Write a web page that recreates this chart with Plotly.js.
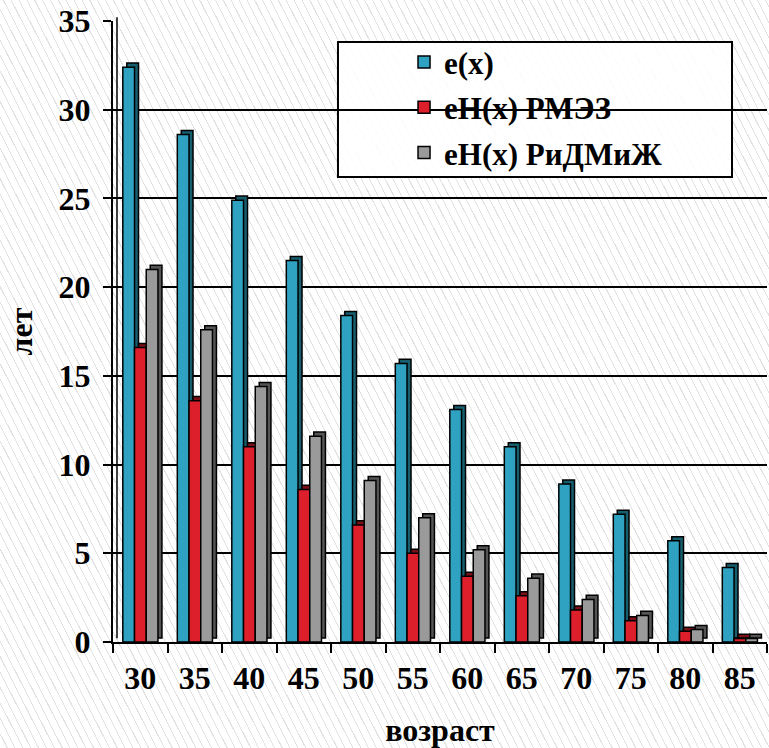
<!DOCTYPE html>
<html>
<head>
<meta charset="utf-8">
<script src="https://cdn.plot.ly/plotly-3.0.1.min.js"></script>
<style>
html, body { margin: 0; padding: 0; overflow: hidden; }
body {
  width: 769px; height: 748px;
  background: repeating-linear-gradient(63deg, #ffffff 0px, #ffffff 6px, #e2e2e2 6px, #e2e2e2 7px);
}
#chart { width: 769px; height: 748px; }
</style>
</head>
<body>
<div id="chart"></div>
<script>
// ---- data ----
const ages = ['30','35','40','45','50','55','60','65','70','75','80','85'];
const ex      = [32.4, 28.6, 24.9, 21.5, 18.4, 15.7, 13.1, 11.0, 8.9, 7.2, 5.7, 4.2];
const ehRMEZ  = [16.6, 13.6, 11.0, 8.6, 6.6, 5.0, 3.7, 2.6, 1.8, 1.2, 0.6, 0.2];
const ehRiDM  = [21.0, 17.6, 14.4, 11.6, 9.1, 7.0, 5.2, 3.6, 2.4, 1.5, 0.7, 0.2];
const names   = ['e(x)', 'eH(x) РМЭЗ', 'eH(x) РиДМиЖ'];

// ---- styling ----
const font = 'Liberation Serif';
const front = ['#2ea2c0', '#dc1f2b', '#9a9a9a'];
const side  = ['#175e6e', '#7a1016', '#555555'];
const offs  = [-0.32, -0.105, 0.11];
const bw = 0.215;
const dx = 0.073;   // depth shift (category units)
const dy = 0.23;    // depth shift (value units)

const series = [ex, ehRMEZ, ehRiDM];
const traces = [];
series.forEach((vals, i) => {
  traces.push({
    type: 'bar', x: ages, y: vals, base: dy,
    offset: offs[i] + dx, width: bw,
    marker: { color: side[i], line: { color: '#000', width: 1.5 } },
    showlegend: false, hoverinfo: 'skip', legendgroup: 'g' + i
  });
  traces.push({
    type: 'bar', x: ages, y: vals, name: names[i],
    offset: offs[i], width: bw,
    marker: { color: front[i], line: { color: '#000', width: 1.5 } },
    legendgroup: 'g' + i
  });
});

const layout = {
  width: 769, height: 748,
  margin: { l: 113, r: 2, t: 21, b: 106 },
  paper_bgcolor: 'rgba(0,0,0,0)',
  plot_bgcolor: 'rgba(0,0,0,0)',
  barmode: 'overlay',
  font: { family: font, color: '#000', size: 32, weight: 'bold' },
  xaxis: {
    type: 'category', tickson: 'boundaries',
    ticks: 'outside', ticklen: 9, tickwidth: 2, tickcolor: '#000',
    showline: true, linewidth: 2, linecolor: '#000',
    showgrid: false,
    tickfont: { family: font, size: 32, weight: 'bold', color: '#000' },
    ticklabelstandoff: 7,
    title: { text: 'возраст', font: { family: font, size: 32, weight: 'bold', color: '#000' }, standoff: 26 }
  },
  yaxis: {
    range: [0, 35], dtick: 5, tick0: 0,
    ticks: 'outside', ticklen: 8, tickwidth: 2, tickcolor: '#000',
    showline: true, linewidth: 2, linecolor: '#000',
    showgrid: true, gridcolor: '#000', gridwidth: 2,
    zeroline: false,
    tickfont: { family: font, size: 32, weight: 'bold', color: '#000' },
    ticklabelstandoff: 6,
    title: { text: 'лет', font: { family: font, size: 32, weight: 'bold', color: '#000' }, standoff: 16 }
  },
  legend: {
    x: 0.445, y: 0.977, xanchor: 'left', yanchor: 'top',
    bgcolor: 'rgba(0,0,0,0)', borderwidth: 0,
    font: { family: font, size: 31, weight: 'bold', color: '#000' },
    tracegroupgap: 2
  },
  shapes: [
    { type: 'rect', xref: 'paper', yref: 'paper', x0: 0.344, x1: 0.9465, y0: 0.7488, y1: 0.966,
      line: { color: '#000', width: 2 }, fillcolor: 'rgba(255,255,255,0.9)', layer: 'between' },
    { type: 'line', xref: 'paper', yref: 'paper', x0: 0.0061, x1: 0.0061, y0: 0.006, y1: 1.006,
      line: { color: '#000', width: 1.5 } }
  ]
};

Plotly.newPlot('chart', traces, layout, { displayModeBar: false, staticPlot: true });
</script>
</body>
</html>
